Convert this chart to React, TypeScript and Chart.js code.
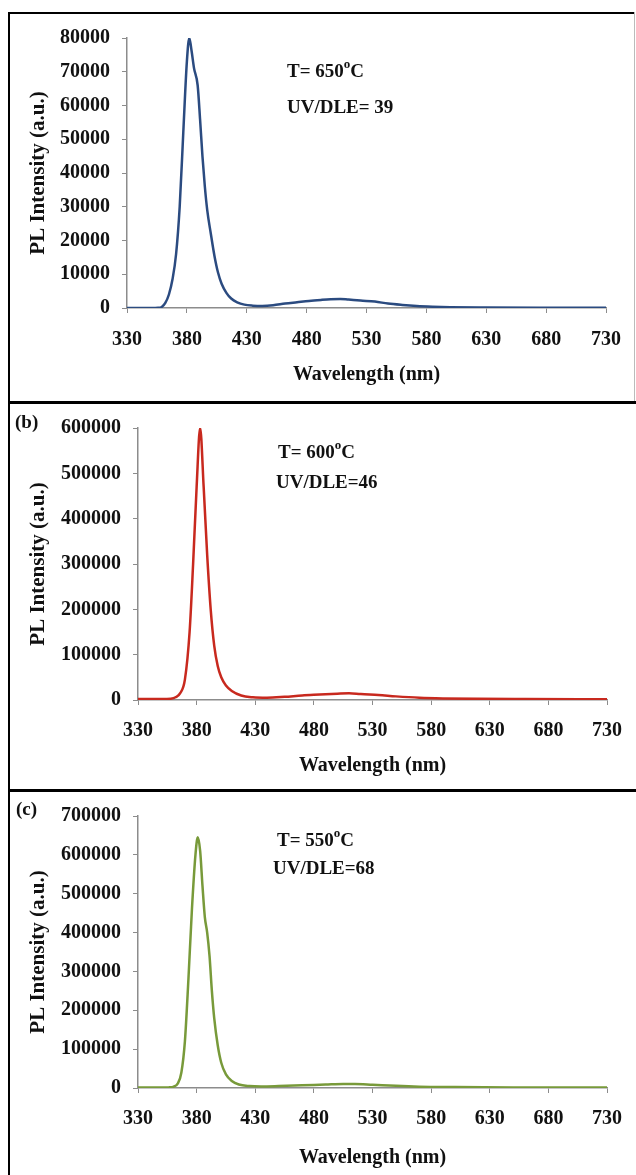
import React, { useEffect, useRef } from "react";
import { Chart, registerables } from "chart.js";

Chart.register(...registerables);

// ---------- data ----------
const xTickValues = [330, 380, 430, 480, 530, 580, 630, 680, 730];

const wavelength650 = [330, 340, 350, 356, 359, 362, 365, 368, 371, 374, 377, 380, 382, 384, 386, 389, 391, 393, 395, 397, 400, 403, 406, 409, 413, 417, 422, 428, 435, 443, 452, 462, 472, 482, 492, 500, 508, 515, 525, 537, 548, 560, 572, 585, 600, 630, 680, 730];
const intensity650 = [0, 0, 0, 50, 300, 1500, 4000, 8500, 16000, 30000, 52000, 73000, 80000, 76000, 71000, 66000, 56000, 45000, 36000, 29000, 22000, 15500, 10500, 7200, 4500, 2800, 1700, 1000, 700, 600, 800, 1300, 1700, 2100, 2400, 2600, 2700, 2500, 2200, 1900, 1300, 900, 600, 400, 250, 150, 100, 80];

const wavelength600 = [330, 340, 350, 358, 362, 366, 370, 374, 377, 380, 383, 386, 389, 392, 395, 398, 401, 405, 410, 418, 428, 440, 455, 470, 485, 500, 510, 520, 535, 550, 570, 590, 620, 660, 730];
const intensity600 = [2000, 2000, 2000, 3000, 6000, 15000, 45000, 150000, 300000, 470000, 600000, 470000, 320000, 200000, 120000, 75000, 50000, 32000, 20000, 10000, 6000, 5000, 7000, 10000, 12000, 14000, 15000, 13000, 11000, 8000, 5000, 3500, 2500, 2000, 1500];

const wavelength550 = [330, 340, 350, 356, 360, 364, 367, 370, 373, 376, 379, 381, 383, 385, 387, 389, 391, 393, 395, 398, 401, 405, 410, 416, 425, 435, 450, 470, 490, 505, 515, 530, 550, 570, 600, 650, 730];
const intensity550 = [1000, 1000, 1000, 1500, 3000, 12000, 40000, 120000, 280000, 460000, 600000, 645000, 610000, 520000, 440000, 400000, 340000, 250000, 180000, 110000, 65000, 35000, 18000, 9000, 5000, 4000, 5000, 7000, 9000, 10500, 10500, 8500, 5500, 3500, 2500, 1500, 1000];

const yMax = [80000, 600000, 700000];
const yStep = [10000, 100000, 100000];
const temperatures = ["650", "600", "550"];
const ratios = ["= 39", "=46", "=68"];
const panelTags = ["", "(b)", "(c)"];

const FONT = "'Liberation Serif', 'Times New Roman', serif";

type PanelSpec = {
  top: number;
  height: number;
  plotTop: number;
  plotBottom: number;
  plotLeft: number;
  labelGap: number;
  titleGap: number;
  color: string;
  xs: number[];
  ys: number[];
  max: number;
  step: number;
};

const CANVAS_LEFT = 10;
const CANVAS_W = 626;
const PLOT_RIGHT = 612;

function Panel({ spec }: { spec: PanelSpec }) {
  const ref = useRef<HTMLCanvasElement | null>(null);
  useEffect(() => {
    const canvas = ref.current;
    if (!canvas) return;
    const H = spec.height;
    const plotTopC = spec.plotTop - spec.top;
    const plotBottomC = spec.plotBottom - spec.top;
    const plotLeftC = spec.plotLeft - CANVAS_LEFT;
    const titleFont = 20;
    const yTitleFont = 21;
    const titleHalf = (titleFont * 1.2) / 2;
    const yTitleHalf = (yTitleFont * 1.2) / 2;
    const yTitleCenter = 39 - CANVAS_LEFT;
    const padLeft = yTitleCenter - yTitleHalf;
    const xTitleCenter = plotBottomC + spec.titleGap;
    const padBottom = H - xTitleCenter - titleHalf;
    const xAxisH = H - padBottom - plotBottomC;
    const yAxisW = plotLeftC - padLeft;
    const tickFontSize = 20;
    const tl = 5;
    const xTickPad = spec.labelGap - tl - (tickFontSize * 1.2) / 2;

    const chart = new Chart(canvas, {
      type: "line",
      data: {
        datasets: [
          {
            data: spec.xs.map((x, i) => ({ x, y: spec.ys[i] })),
            borderColor: spec.color,
            borderWidth: 2.5,
            pointRadius: 0,
            fill: false,
            cubicInterpolationMode: "monotone",
          },
        ],
      },
      options: {
        animation: false,
        responsive: false,
        devicePixelRatio: 1,
        layout: {
          padding: {
            top: plotTopC,
            left: padLeft,
            right: CANVAS_W - (PLOT_RIGHT - CANVAS_LEFT),
            bottom: padBottom,
          },
        },
        plugins: {
          legend: { display: false },
          tooltip: { enabled: false },
        },
        scales: {
          x: {
            type: "linear",
            min: 330,
            max: 730,
            afterBuildTicks: (axis: any) => {
              axis.ticks = xTickValues.map((v) => ({ value: v }));
            },
            afterFit: (axis: any) => {
              axis.height = xAxisH;
            },
            grid: {
              display: true,
              drawOnChartArea: false,
              drawTicks: true,
              tickLength: tl,
              color: "#8c8c8c",
            },
            border: { display: true, color: "#8c8c8c", width: 1.5 },
            ticks: {
              color: "#111",
              padding: xTickPad,
              maxRotation: 0,
              autoSkip: false,
              font: { family: FONT, size: tickFontSize, weight: "bold" },
              callback: (v: any) => String(v),
            },
            title: {
              display: true,
              text: "Wavelength (nm)",
              color: "#111",
              padding: 0,
              font: { family: FONT, size: titleFont, weight: "bold" },
            },
          },
          y: {
            type: "linear",
            min: 0,
            max: spec.max,
            afterFit: (axis: any) => {
              axis.width = yAxisW;
            },
            grid: {
              display: true,
              drawOnChartArea: false,
              drawTicks: true,
              tickLength: tl,
              color: "#8c8c8c",
            },
            border: { display: true, color: "#8c8c8c", width: 1.5 },
            ticks: {
              stepSize: spec.step,
              color: "#111",
              padding: 12,
              font: { family: FONT, size: tickFontSize, weight: "bold" },
              callback: (v: any) => String(v),
            },
            title: {
              display: true,
              text: "PL Intensity (a.u.)",
              color: "#111",
              padding: 0,
              font: { family: FONT, size: yTitleFont, weight: "bold" },
            },
          },
        },
      },
    } as any);
    return () => chart.destroy();
  }, [spec]);

  return (
    <canvas
      ref={ref}
      width={CANVAS_W}
      height={spec.height}
      style={{
        position: "absolute",
        left: CANVAS_LEFT,
        top: spec.top,
        width: CANVAS_W,
        height: spec.height,
      }}
    />
  );
}

const panels: PanelSpec[] = [
  { top: 14, height: 387, plotTop: 30, plotBottom: 308, plotLeft: 127, labelGap: 32, titleGap: 67, color: "#2b4b80", xs: wavelength650, ys: intensity650, max: yMax[0], step: yStep[0] },
  { top: 404, height: 385, plotTop: 420, plotBottom: 700, plotLeft: 138, labelGap: 31, titleGap: 66, color: "#c8291e", xs: wavelength600, ys: intensity600, max: yMax[1], step: yStep[1] },
  { top: 792, height: 383, plotTop: 810, plotBottom: 1088, plotLeft: 138, labelGap: 31, titleGap: 70, color: "#789a3a", xs: wavelength550, ys: intensity550, max: yMax[2], step: yStep[2] },
];

const notePos = [
  { tx: 287, ty: 61, ux: 287, uy: 97 },
  { tx: 278, ty: 442, ux: 276, uy: 472 },
  { tx: 277, ty: 830, ux: 273, uy: 858 },
];
const tagPos = [
  { x: 15, y: 0 },
  { x: 15, y: 412 },
  { x: 16, y: 799 },
];

const textStyle: React.CSSProperties = {
  position: "absolute",
  fontFamily: FONT,
  fontWeight: "bold",
  fontSize: 19,
  lineHeight: "19px",
  color: "#111",
  whiteSpace: "nowrap",
};

export default function App() {
  return (
    <div
      style={{
        position: "absolute",
        left: 0,
        top: 0,
        width: 636,
        height: 1175,
        background: "#fff",
        overflow: "hidden",
      }}
    >
      {panels.map((p, i) => (
        <Panel key={i} spec={p} />
      ))}
      {/* frame lines */}
      <div style={{ position: "absolute", left: 8, top: 12, width: 627, height: 2, background: "#000" }} />
      <div style={{ position: "absolute", left: 8, top: 12, width: 2, height: 1163, background: "#000" }} />
      <div style={{ position: "absolute", left: 634, top: 12, width: 1, height: 390, background: "#bbb" }} />
      <div style={{ position: "absolute", left: 8, top: 401, width: 628, height: 3, background: "#000" }} />
      <div style={{ position: "absolute", left: 8, top: 789, width: 628, height: 3, background: "#000" }} />
      {notePos.map((n, i) => (
        <React.Fragment key={"n" + i}>
          <div style={{ ...textStyle, left: n.tx, top: n.ty }}>
            T= {temperatures[i]}
            <span style={{ fontSize: 13, position: "relative", top: -9 }}>o</span>C
          </div>
          <div style={{ ...textStyle, left: n.ux, top: n.uy }}>UV/DLE{ratios[i]}</div>
        </React.Fragment>
      ))}
      {panelTags.map((t, i) =>
        t ? (
          <div key={"t" + i} style={{ ...textStyle, left: tagPos[i].x, top: tagPos[i].y }}>
            {t}
          </div>
        ) : null
      )}
    </div>
  );
}
